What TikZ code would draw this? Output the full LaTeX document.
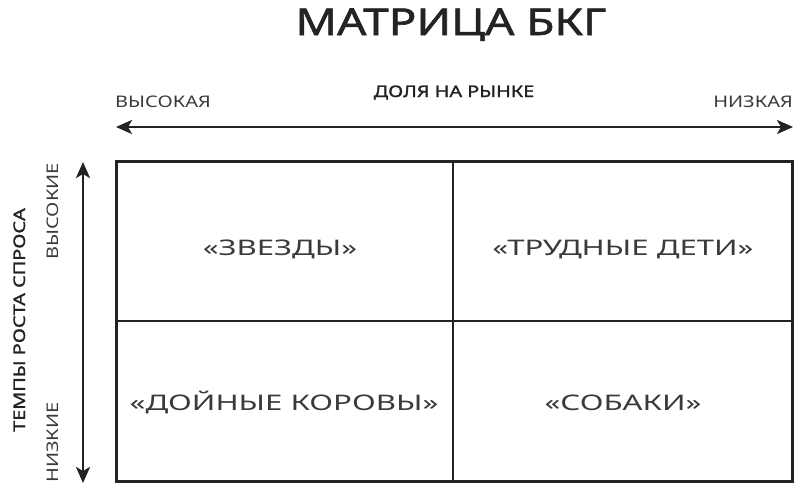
\documentclass[tikz,border=0pt]{standalone}
\usepackage{fontspec}
\setmainfont{Noto Sans}
\newfontfamily\plainface{Noto Sans}[FakeStretch=1.25]
\newfontfamily\wideface{Noto Sans}[FakeStretch=1.45]
\newfontfamily\heavyface{Noto Sans}[FakeStretch=1.24, FakeBold=1.6]
\usepackage{xcolor}
\usetikzlibrary{arrows.meta}

\definecolor{ink}{HTML}{232323}
\definecolor{softink}{HTML}{3A3A3A}

\begin{document}
\begin{tikzpicture}[x=1pt,y=-1pt,
    celltext/.style={font=\wideface\fontsize{21.5}{25}\selectfont, text=softink, anchor=base, inner sep=0pt},
    sidetext/.style={font=\plainface\fontsize{16}{19}\selectfont, text=softink, inner sep=0pt},
    axistext/.style={font=\heavyface\fontsize{16}{19}\selectfont, text=ink, inner sep=0pt},
    twoway/.style={{Stealth[length=16pt,width=14pt,inset=4pt]}-{Stealth[length=16pt,width=14pt,inset=4pt]}, line width=2.6pt, draw=ink}]
    % Fixed frame of the picture
    \useasboundingbox (0,0) rectangle (800,488);

    % Title
    \node[font=\heavyface\fontsize{37}{44}\selectfont, text=ink, anchor=base, inner sep=0pt] (title) at (451,35) {МАТРИЦА БКГ};

    % Horizontal axis: market share
    \coordinate (shareL) at (116,127);
    \coordinate (shareR) at (793,127);
    \draw[twoway] (shareL) -- (shareR);
    \node[axistext, anchor=base] (share) at (454,97) {ДОЛЯ НА РЫНКЕ};
    \node[sidetext, anchor=base west] (shareHigh) at (115,107) {ВЫСОКАЯ};
    \node[sidetext, anchor=base east] (shareLow) at (793,107) {НИЗКАЯ};

    % Vertical axis: demand growth
    \coordinate (growT) at (83,162);
    \coordinate (growB) at (83,483);
    \draw[twoway] (growB) -- (growT);
    \node[axistext, rotate=90, anchor=base] (grow) at (25,320) {ТЕМПЫ РОСТА СПРОСА};
    \node[sidetext, rotate=90, anchor=base east] (growHigh) at (58,163) {ВЫСОКИЕ};
    \node[sidetext, rotate=90, anchor=base west] (growLow) at (58,483) {НИЗКИЕ};

    % The matrix
    \coordinate (boxTL) at (116,161);
    \coordinate (boxBR) at (792,481);
    \coordinate (midT) at (453,161);
    \coordinate (midB) at (453,481);
    \coordinate (midL) at (116,321);
    \coordinate (midR) at (792,321);
    \draw[line width=1.5pt, draw=ink] (midT) -- (midB);
    \draw[line width=1.5pt, draw=ink] (midL) -- (midR);
    \draw[line width=3pt, draw=ink] (boxTL) rectangle (boxBR);

    % Quadrant names
    \node[celltext] (stars) at (280,255) {«ЗВЕЗДЫ»};
    \node[celltext] (question) at (623,255) {«ТРУДНЫЕ ДЕТИ»};
    \node[celltext] (cows) at (284,410) {«ДОЙНЫЕ КОРОВЫ»};
    \node[celltext] (dogs) at (623,410) {«СОБАКИ»};
\end{tikzpicture}
\end{document}
